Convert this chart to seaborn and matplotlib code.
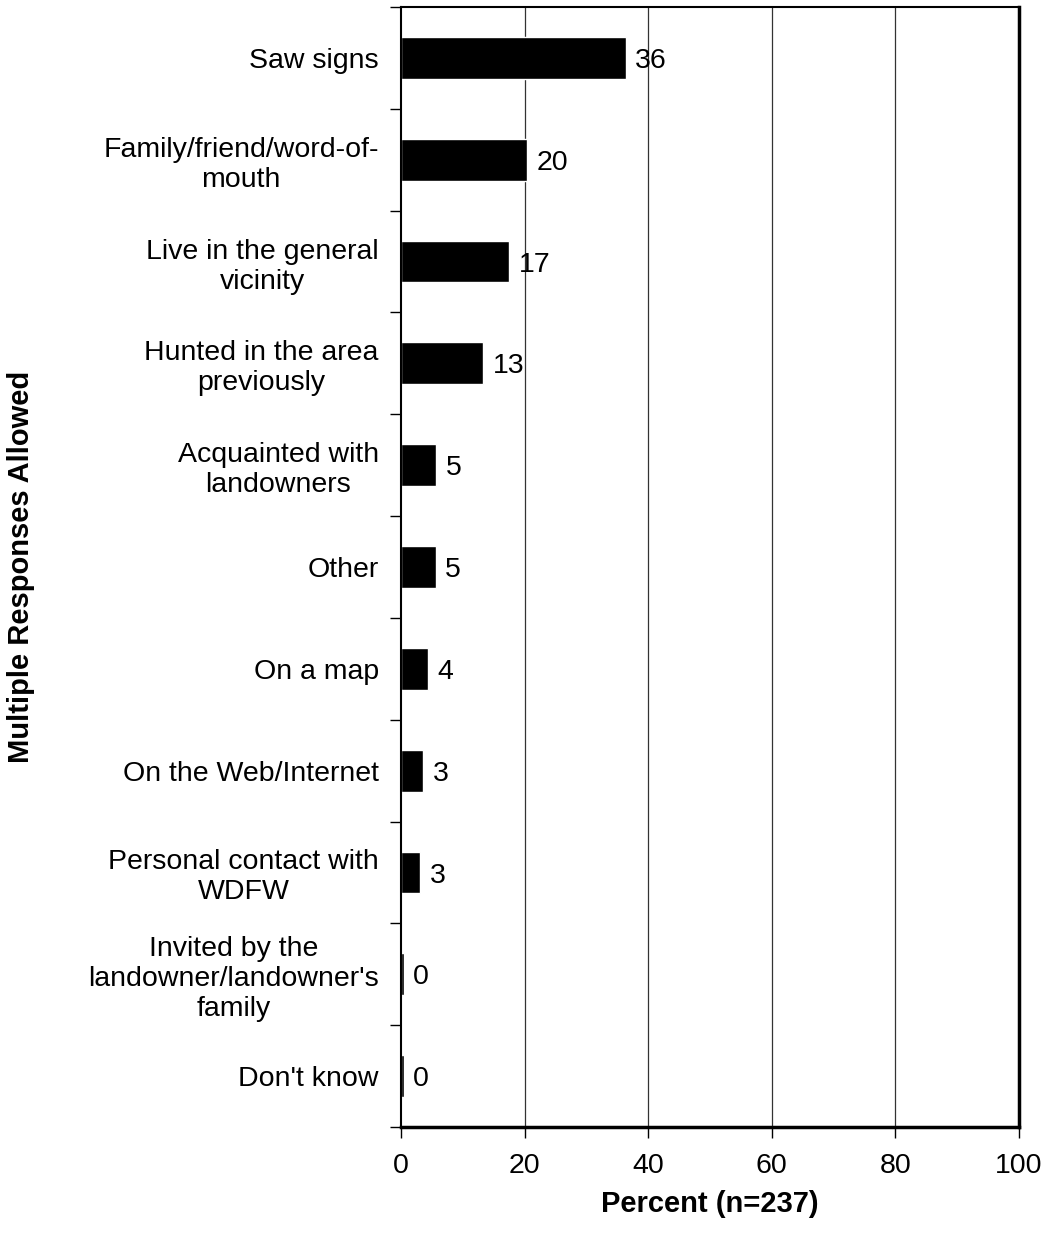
import matplotlib
matplotlib.use("Agg")
import matplotlib.pyplot as plt
import numpy as np
import pandas as pd
import seaborn as sns

categories = [
    "Saw signs",
    "Family/friend/word-of-\nmouth",
    "Live in the general\nvicinity",
    "Hunted in the area\npreviously",
    "Acquainted with\nlandowners",
    "Other",
    "On a map",
    "On the Web/Internet",
    "Personal contact with\nWDFW",
    "Invited by the\nlandowner/landowner's\nfamily",
    "Don't know",
]
values = [36.4, 20.4, 17.5, 13.3, 5.7, 5.6, 4.4, 3.6, 3.1, 0.5, 0.5]
labels = ["36", "20", "17", "13", "5", "5", "4", "3", "3", "0", "0"]

df = pd.DataFrame({"category": categories, "percent": values})

sns.set_style("white")
plt.rcParams["font.family"] = ["Liberation Sans", "DejaVu Sans"]
plt.rcParams["text.color"] = "black"
plt.rcParams["xtick.color"] = "black"
plt.rcParams["ytick.color"] = "black"
plt.rcParams["axes.labelcolor"] = "black"

fs = 20.5

fig = plt.figure(figsize=(10.49, 12.38), dpi=100)
ax = fig.add_axes([401 / 1049, 1 - 1127 / 1238, 618 / 1049, 1120 / 1238])

sns.barplot(data=df, y="category", x="percent", color="black", orient="h",
            width=0.41, ax=ax, saturation=1)

# value labels next to the bars
for i, (v, lab) in enumerate(zip(values, labels)):
    ax.text(v + 1.5, i + 0.03, lab, va="center", ha="left", fontsize=fs)

ax.set_xlim(0, 100)
ax.set_ylim(len(categories) - 0.5, -0.5)
ax.set_xticks(np.arange(0, 101, 20))
ax.tick_params(axis="x", labelsize=fs, direction="out", length=8, width=1, pad=11, bottom=True)
ax.tick_params(axis="y", which="major", labelsize=fs, length=0, pad=16)
ax.set_yticks(np.arange(-0.5, len(categories), 1), minor=True)
ax.tick_params(axis="y", which="minor", direction="out", length=8, width=1, left=True)
for t in ax.get_yticklabels():
    t.set_multialignment("center")

for x in [20, 40, 60, 80]:
    ax.axvline(x, color="#333333", lw=0.9, zorder=0)

for side in ["top", "right", "bottom", "left"]:
    ax.spines[side].set_visible(True)
    ax.spines[side].set_color("black")
ax.spines["top"].set_linewidth(1.5)
ax.spines["left"].set_linewidth(1.5)
ax.spines["right"].set_linewidth(2.5)
ax.spines["bottom"].set_linewidth(2.5)

ax.set_xlabel("Percent (n=237)", fontsize=21, fontweight="bold", labelpad=8)
ax.set_ylabel("Multiple Responses Allowed", fontsize=21, fontweight="bold")
ax.yaxis.set_label_coords(-0.592, 0.5, transform=ax.transAxes)

fig.savefig("out.png", dpi=100)
